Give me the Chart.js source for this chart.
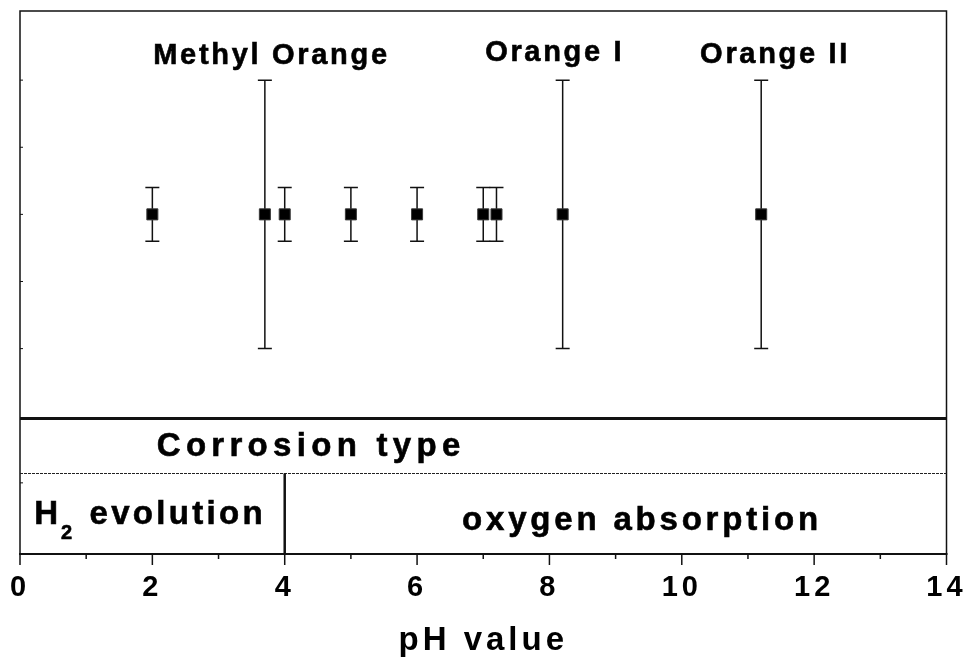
<!DOCTYPE html>
<html><head><meta charset="utf-8">
<script src="https://cdn.jsdelivr.net/npm/chart.js@4.4.0/dist/chart.umd.min.js"></script>
<style>html,body{margin:0;padding:0;background:#fff;overflow:hidden}#wrap{width:967px;height:660px}</style>
</head><body><div id="wrap"><canvas id="c" width="967" height="660"></canvas></div>
<script>
// ---- data ----
const pHValues   = [2, 3.7, 4, 5, 6, 7, 7.2, 8.2, 11.2];
const yValues    = [3, 3, 3, 3, 3, 3, 3, 3, 3];
const yErrors    = [0.4, 2, 0.4, 0.4, 0.4, 0.4, 0.4, 2, 2];
const xTickLabels = [0, 2, 4, 6, 8, 10, 12, 14];
const xMinorTicks = [1, 3, 5, 7, 9, 11, 13];
const yTickValues = [-1, 1, 2, 3, 4, 5];
const dyeNames   = ['Methyl Orange', 'Orange I', 'Orange II'];
const dyeLabelX  = [3.78, 8.06, 11.39];
const dyeLabelY  = [5.24, 5.29, 5.26];
const corrosionTitle = 'Corrosion type';
const regionBoundaryPH = 4;
const regionNames = ['H', '2', 'evolution', 'oxygen absorption'];
const dividerY = -0.04, dashedY = -0.846;

const FAM = '"Liberation Sans", Arial, sans-serif';
const font = (s) => 'bold ' + s + 'px ' + FAM;

function spacedText(ctx, text, x, y, size, spacing, align) {
  ctx.save();
  ctx.font = font(size);
  ctx.letterSpacing = spacing + 'px';
  ctx.textBaseline = 'alphabetic';
  ctx.textAlign = 'left';
  ctx.fillStyle = '#000';
  ctx.strokeStyle = '#000';
  ctx.lineWidth = 0.6;
  const w = ctx.measureText(text).width - spacing;
  const sx = align === 'center' ? x - w / 2 : x;
  ctx.fillText(text, sx, y);
  ctx.strokeText(text, sx, y);
  ctx.restore();
}

const deco = {
  id: 'deco',
  beforeDraw(chart) { chart.ctx.letterSpacing = '4px'; },
  beforeDatasetsDraw(chart) {
    const ctx = chart.ctx, xs = chart.scales.x, ys = chart.scales.y, a = chart.chartArea;
    ctx.save();
    ctx.letterSpacing = '0px';
    ctx.strokeStyle = '#111';
    // frame
    ctx.lineWidth = 1.5;
    ctx.beginPath();
    ctx.moveTo(a.left, a.bottom); ctx.lineTo(a.left, a.top); ctx.lineTo(a.right, a.top); ctx.lineTo(a.right, a.bottom);
    ctx.stroke();
    ctx.lineWidth = 2;
    ctx.beginPath(); ctx.moveTo(a.left - 1, a.bottom); ctx.lineTo(a.right + 1, a.bottom); ctx.stroke();
    // x ticks (outward)
    ctx.lineWidth = 1.5;
    xTickLabels.forEach(v => { const p = xs.getPixelForValue(v); ctx.beginPath(); ctx.moveTo(p, a.bottom); ctx.lineTo(p, a.bottom + 11); ctx.stroke(); });
    xMinorTicks.forEach(v => { const p = xs.getPixelForValue(v); ctx.beginPath(); ctx.moveTo(p, a.bottom); ctx.lineTo(p, a.bottom + 5); ctx.stroke(); });
    // y ticks (inward, small)
    ctx.lineWidth = 1;
    yTickValues.forEach(v => { const p = ys.getPixelForValue(v); ctx.beginPath(); ctx.moveTo(a.left, p); ctx.lineTo(a.left + 3, p); ctx.stroke(); });
    // thick divider
    ctx.lineWidth = 3;
    const dy = ys.getPixelForValue(dividerY);
    ctx.beginPath(); ctx.moveTo(a.left, dy); ctx.lineTo(a.right, dy); ctx.stroke();
    // dashed divider
    ctx.lineWidth = 1;
    ctx.strokeStyle = '#222';
    ctx.setLineDash([3, 1]);
    const dd = Math.round(ys.getPixelForValue(dashedY)) + 0.5;
    ctx.beginPath(); ctx.moveTo(a.left, dd); ctx.lineTo(a.right, dd); ctx.stroke();
    ctx.setLineDash([]);
    // vertical boundary
    ctx.strokeStyle = '#111';
    ctx.lineWidth = 2.5;
    const bx = xs.getPixelForValue(regionBoundaryPH);
    ctx.beginPath(); ctx.moveTo(bx, dd); ctx.lineTo(bx, a.bottom); ctx.stroke();
    // error bars
    ctx.lineWidth = 1.5;
    pHValues.forEach((x, i) => {
      const px = xs.getPixelForValue(x);
      const t = ys.getPixelForValue(yValues[i] + yErrors[i]);
      const b = ys.getPixelForValue(yValues[i] - yErrors[i]);
      ctx.beginPath();
      ctx.moveTo(px, t); ctx.lineTo(px, b);
      ctx.moveTo(px - 7, t); ctx.lineTo(px + 7, t);
      ctx.moveTo(px - 7, b); ctx.lineTo(px + 7, b);
      ctx.stroke();
    });
    ctx.restore();
  },
  afterDraw(chart) {
    const ctx = chart.ctx, xs = chart.scales.x, ys = chart.scales.y;
    dyeNames.forEach((n, i) => spacedText(ctx, n, xs.getPixelForValue(dyeLabelX[i]), ys.getPixelForValue(dyeLabelY[i]), 29, 2.7, 'center'));
    spacedText(ctx, corrosionTitle, xs.getPixelForValue(4.36), ys.getPixelForValue(-0.597), 33, 5.3, 'center');
    spacedText(ctx, regionNames[0], xs.getPixelForValue(0.216), ys.getPixelForValue(-1.616), 33, 3.4, 'left');
    spacedText(ctx, regionNames[1], xs.getPixelForValue(0.62), ys.getPixelForValue(-1.843), 20, 0, 'left');
    spacedText(ctx, regionNames[2], xs.getPixelForValue(1.05), ys.getPixelForValue(-1.616), 33, 3.3, 'left');
    spacedText(ctx, regionNames[3], xs.getPixelForValue(9.37), ys.getPixelForValue(-1.706), 33, 3.8, 'center');
  }
};

new Chart(document.getElementById('c'), {
  type: 'scatter',
  data: {
    datasets: [{
      data: pHValues.map((x, i) => ({ x, y: yValues[i] })),
      pointStyle: 'rect',
      pointRadius: 7.8,
      backgroundColor: '#000',
      borderColor: '#3a3a3a',
      borderWidth: 1,
      showLine: false
    }]
  },
  options: {
    responsive: false,
    devicePixelRatio: 1,
    animation: false,
    events: [],
    layout: { padding: { top: 11, left: 20, right: 20.5, bottom: 0 } },
    plugins: { legend: { display: false }, tooltip: { enabled: false } },
    scales: {
      x: {
        type: 'linear', min: 0, max: 14,
        afterBuildTicks: (s) => { s.ticks = xTickLabels.map(v => ({ value: v })); },
        ticks: { autoSkip: false, maxRotation: 0, padding: 17, color: '#000', font: { family: FAM, size: 29, weight: 'bold' } },
        grid: { display: false, drawTicks: false },
        border: { display: false },
        title: { display: true, text: 'pH value', color: '#000', font: { family: FAM, size: 33, weight: 'bold' }, padding: { top: 0, bottom: -1 } },
        afterFit: (s) => { s.height = 106; s.paddingLeft = 0; s.paddingRight = 0; }
      },
      y: { type: 'linear', display: false, min: -2.06, max: 6.03 }
    }
  },
  plugins: [deco]
});
</script></body></html>
